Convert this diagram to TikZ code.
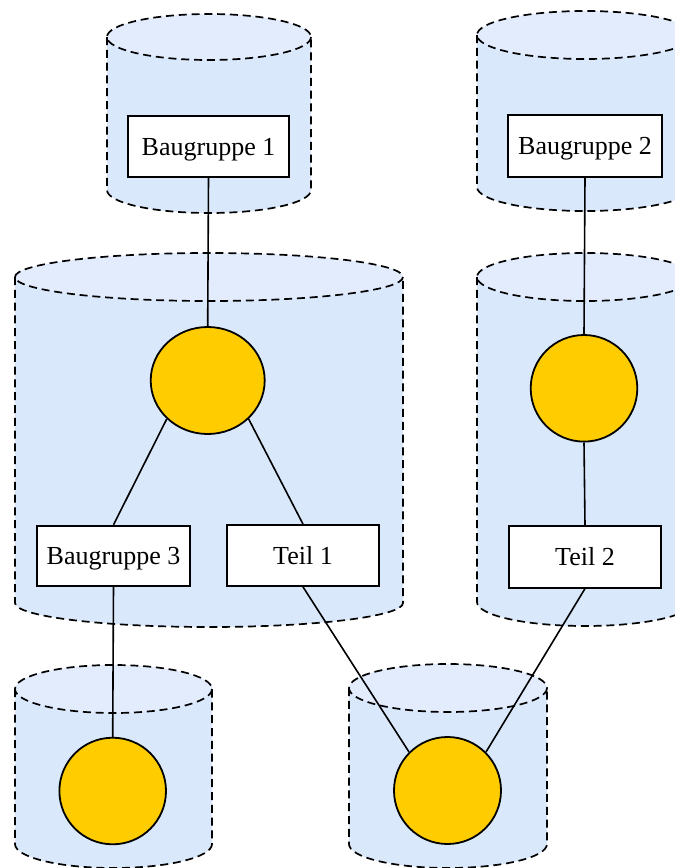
\documentclass[tikz,border=0pt]{standalone}
\usepackage{fontspec}
\setmainfont{Liberation Serif}
\usetikzlibrary{shapes.geometric}
\definecolor{bodyblue}{HTML}{DAE8FC}
\definecolor{topblue}{HTML}{E2ECFD}
\definecolor{gold}{HTML}{FFCC00}
\tikzset{
  dashline/.style={draw=black,line width=0.85pt,dash pattern=on 4pt off 2.4pt},
  itembox/.style={draw=black,fill=white,line width=0.9pt,rectangle,inner sep=0pt,
    text depth=0pt,font=\fontsize{13}{15}\selectfont},
  hub/.style={draw=black,fill=gold,line width=0.9pt,ellipse,inner sep=0pt},
  link/.style={draw=black,line width=0.8pt}
}
\newcommand\drumshape[5]{% cx, rx, ytop, ybottom, ry
  \fill[bodyblue] (#1-#2,#3) -- (#1-#2,#4) arc[start angle=180,end angle=0,x radius=#2,y radius=#5] -- (#1+#2,#3) -- cycle;
  \fill[topblue] (#1,#3) ellipse[x radius=#2,y radius=#5];
  \draw[dashline] (#1,#3) ellipse[x radius=#2,y radius=#5];
  \draw[dashline] (#1-#2,#3) -- (#1-#2,#4) arc[start angle=180,end angle=0,x radius=#2,y radius=#5] -- (#1+#2,#3);
}
\begin{document}
\begin{tikzpicture}[x=0.5pt,y=-0.5pt]
\useasboundingbox (0,0) rectangle (675,868);
\clip (0,0) rectangle (675,868);
% containers
\drumshape{209}{102}{37}{190}{23}
\drumshape{585}{108}{35}{187}{24}
\drumshape{209}{194}{277}{603}{24}
\drumshape{585}{108}{277}{602}{24}
\drumshape{113.5}{98.5}{689}{844}{24}
\drumshape{448}{99}{688}{844}{24}
% nodes
\node[itembox,minimum width=80.5pt,minimum height=30.5pt] (b1) at (208.5,146.5) {Baugruppe 1};
\node[itembox,minimum width=77pt,minimum height=31pt] (b2) at (585,146) {Baugruppe 2};
\node[hub,minimum width=57pt,minimum height=53.5pt] (c1) at (207.7,380.5) {};
\node[hub,minimum width=53.3pt,minimum height=53.3pt] (c2) at (584,388.3) {};
\node[itembox,minimum width=76.5pt,minimum height=30pt] (b3) at (113.5,555.7) {Baugruppe 3};
\node[itembox,minimum width=76pt,minimum height=30.5pt] (t1) at (303,555.5) {Teil 1};
\node[itembox,minimum width=76pt,minimum height=31pt] (t2) at (585,556.7) {Teil 2};
\node[hub,minimum width=53.3pt,minimum height=53.3pt] (c3) at (112.7,791) {};
\node[hub,minimum width=53.5pt,minimum height=53.5pt] (c4) at (447.5,790.5) {};
% connectors
\draw[link] (b1.south) -- (c1.north);
\draw[link] (c1.south west) -- (b3.north);
\draw[link] (c1.south east) -- (t1.north);
\draw[link] (b2.south) -- (c2.north);
\draw[link] (c2.south) -- (t2.north);
\draw[link] (b3.south) -- (c3.north);
\draw[link] (t1.south) -- (c4.north west);
\draw[link] (t2.south) -- (c4.north east);
\end{tikzpicture}
\end{document}
